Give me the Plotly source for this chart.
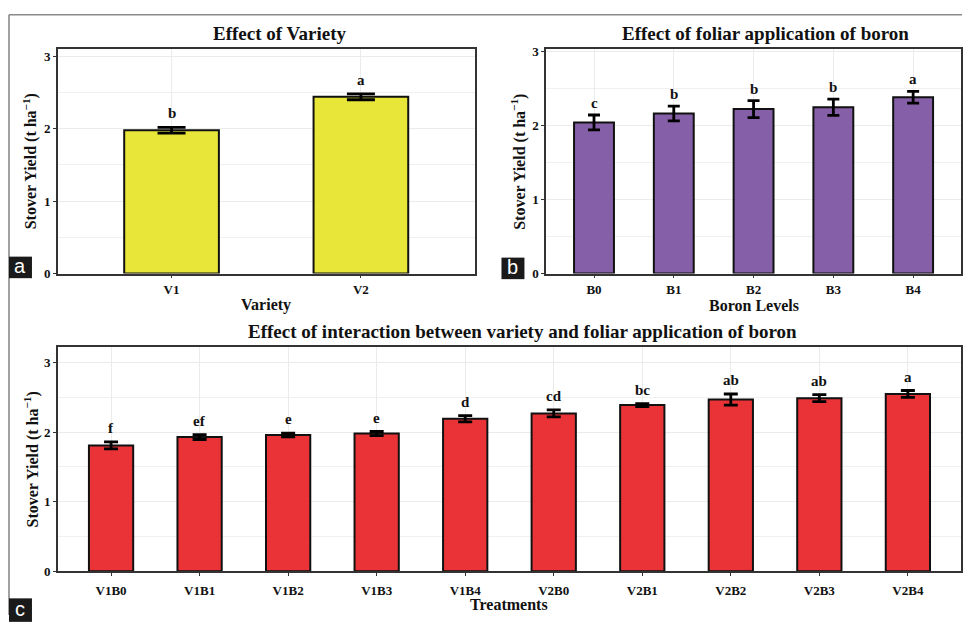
import plotly.graph_objects as go

# ---------------- data ----------------
variety = ["V1", "V2"]
variety_mean = [1.98, 2.44]
variety_se = [0.04, 0.04]
variety_letters = ["b", "a"]

boron = ["B0", "B1", "B2", "B3", "B4"]
boron_mean = [2.04, 2.16, 2.22, 2.245, 2.38]
boron_se = [0.10, 0.10, 0.115, 0.11, 0.08]
boron_letters = ["c", "b", "b", "b", "a"]

treat = ["V1B0", "V1B1", "V1B2", "V1B3", "V1B4", "V2B0", "V2B1", "V2B2", "V2B3", "V2B4"]
treat_mean = [1.81, 1.93, 1.96, 1.98, 2.195, 2.27, 2.39, 2.47, 2.49, 2.55]
treat_se = [0.05, 0.035, 0.025, 0.03, 0.045, 0.05, 0.02, 0.08, 0.05, 0.05]
treat_letters = ["f", "ef", "e", "e", "d", "cd", "bc", "ab", "ab", "a"]

titles = ["Effect of Variety", "Effect of foliar application of boron",
          "Effect of interaction between variety and foliar application of boron"]
xtitles = ["Variety", "Boron Levels", "Treatments"]
ytitle = "Stover Yield (t ha<sup>−1</sup>)"

W, H = 963, 623
SERIF = "Liberation Serif"

def px_x(x):
    return x / W

def px_y(y):
    return 1 - y / H

fig = go.Figure()

panels = [
    dict(cats=variety, mean=variety_mean, se=variety_se, letters=variety_letters,
         color="rgba(230,228,40,0.92)", xa="x", ya="y", cap=14, yr=3.1, shift=4, stand=0,
         dom_x=[58, 475], dom_y=[45, 274.3]),
    dict(cats=boron, mean=boron_mean, se=boron_se, letters=boron_letters,
         color="rgba(126,86,162,0.95)", xa="x2", ya="y2", cap=6, yr=3.03, shift=2, stand=0,
         dom_x=[546.7, 962], dom_y=[45, 274.3]),
    dict(cats=treat, mean=treat_mean, se=treat_se, letters=treat_letters,
         color="rgba(232,36,40,0.93)", xa="x3", ya="y3", cap=7, yr=3.23, shift=4, stand=3,
         dom_x=[58, 962], dom_y=[349, 578.3]),
]

annotations = []
shapes = []
axis_common = dict(showline=True, mirror=True, linecolor="#333333", linewidth=1.6,
                   ticks="outside", ticklen=3, tickwidth=1.2, tickcolor="#333333",
                   tickfont=dict(family=SERIF, size=13, color="#111111", weight="bold"),
                   gridcolor="#EBEBEB", gridwidth=1, zeroline=False, fixedrange=True)

for i, p in enumerate(panels):
    fig.add_trace(go.Bar(
        x=p["cats"], y=p["mean"], xaxis=p["xa"], yaxis=p["ya"],
        width=0.5,
        marker=dict(color=p["color"], line=dict(color="#111111", width=2)),
        error_y=dict(type="data", array=p["se"], visible=True, color="#000000",
                     thickness=2.8, width=p["cap"]),
        showlegend=False,
    ))
    n = len(p["cats"])
    suffix = "" if i == 0 else str(i + 1)
    fig.layout["xaxis" + suffix] = dict(
        axis_common, domain=[px_x(p["dom_x"][0]), px_x(p["dom_x"][1])],
        anchor=p["ya"], range=[-0.6, n - 0.4], type="category", showgrid=True,
        ticklabelstandoff=p["stand"])
    fig.layout["yaxis" + suffix] = dict(
        axis_common, domain=[px_y(p["dom_y"][1]), px_y(p["dom_y"][0])],
        anchor=p["xa"], range=[0, p["yr"]], dtick=1, tick0=0, showgrid=True,
        minor=dict(dtick=0.5, showgrid=True, gridcolor="#F0F0F0", gridwidth=0.8, ticks=""))
    for c, m, s, l in zip(p["cats"], p["mean"], p["se"], p["letters"]):
        annotations.append(dict(x=c, y=m + s, xref=p["xa"], yref=p["ya"], text=l,
                                showarrow=False, yanchor="bottom", yshift=p["shift"],
                                font=dict(family=SERIF, size=15, color="#111111", weight="bold")))

# titles
for txt, cx, cy in zip(titles, [280, 766.7, 523.5], [29, 29, 333]):
    annotations.append(dict(x=px_x(cx), y=px_y(cy), xref="paper", yref="paper", text=txt,
                            showarrow=False, xanchor="center", yanchor="middle",
                            font=dict(family=SERIF, size=19, color="#111111", weight="bold")))
# x titles
for txt, cx, cy in zip(xtitles, [266.5, 754.3, 510], [306.5, 306.5, 612]):
    annotations.append(dict(x=px_x(cx), y=px_y(cy), xref="paper", yref="paper", text=txt,
                            showarrow=False, xanchor="center", yanchor="middle",
                            font=dict(family=SERIF, size=16, color="#111111", weight="bold")))
# y titles
for cx, cy in zip([30, 519, 31.5], [159.7, 159.7, 463.7]):
    annotations.append(dict(x=px_x(cx), y=px_y(cy), xref="paper", yref="paper", text=ytitle,
                            showarrow=False, xanchor="center", yanchor="middle", textangle=-90,
                            font=dict(family=SERIF, size=16, color="#111111", weight="bold")))

# outer frame
shapes.append(dict(type="line", xref="paper", yref="paper", x0=px_x(9), x1=px_x(9),
                   y0=0, y1=px_y(10), line=dict(color="#8a8a8a", width=1.6)))
shapes.append(dict(type="line", xref="paper", yref="paper", x0=px_x(9), x1=1,
                   y0=px_y(10), y1=px_y(10), line=dict(color="#8a8a8a", width=1.6)))

# panel label boxes
for lab, x0, y0, x1, y1 in [("a", 9, 257, 32, 279), ("b", 502, 258, 525, 280), ("c", 9, 606, 32, 630)]:
    shapes.append(dict(type="rect", xref="paper", yref="paper", x0=px_x(x0), x1=px_x(x1),
                       y0=px_y(y1), y1=px_y(y0), fillcolor="#1a1a1a", line=dict(width=0)))
    annotations.append(dict(x=px_x((x0 + x1) / 2), y=px_y((y0 + y1) / 2 - 1), xref="paper", yref="paper",
                            text=lab, showarrow=False, xanchor="center", yanchor="middle",
                            font=dict(family="Liberation Sans", size=20, color="#ffffff")))

fig.update_layout(
    width=W, height=H, margin=dict(l=0, r=0, t=0, b=0),
    paper_bgcolor="#ffffff", plot_bgcolor="#ffffff",
    annotations=annotations, shapes=shapes, showlegend=False,
)

fig.write_html("out.html", config={"displayModeBar": False})
